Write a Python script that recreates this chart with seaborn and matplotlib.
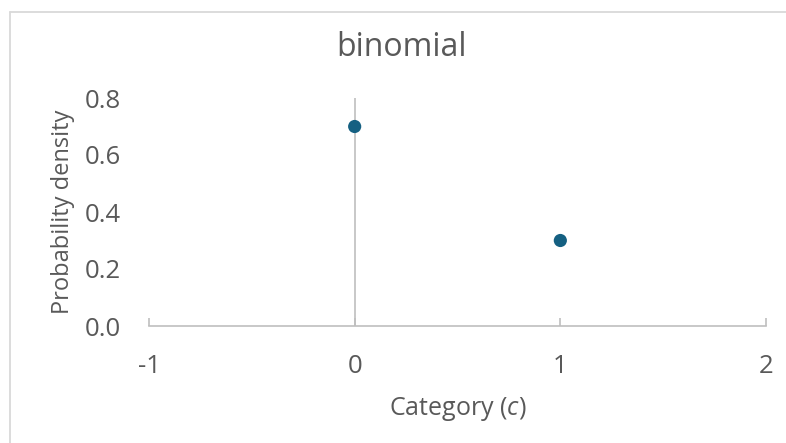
import matplotlib
matplotlib.use("Agg")
import matplotlib.pyplot as plt
import seaborn as sns
import pandas as pd
from matplotlib.lines import Line2D

categories = [0, 1]
probabilities = [0.7, 0.3]
x_ticks = [-1, 0, 1, 2]
y_ticks = [0.0, 0.2, 0.4, 0.6, 0.8]
title = "binomial"
x_label = "Category ($c$)"
y_label = "Probability density"

df = pd.DataFrame({"c": categories, "p": probabilities})

sns.set_theme(style="white")
plt.rcParams["font.family"] = ["Open Sans", "DejaVu Sans"]
plt.rcParams["mathtext.fontset"] = "custom"
plt.rcParams["mathtext.it"] = "Open Sans:italic"
plt.rcParams["mathtext.rm"] = "Open Sans"

txt = "#595959"
axc = "#BFBFBF"

W, H = 786, 443
fig = plt.figure(figsize=(W / 100, H / 100), dpi=100)
ax = fig.add_axes([149 / W, 1 - 326 / H, (766 - 149) / W, (326 - 98) / H])

sns.scatterplot(data=df, x="c", y="p", ax=ax, color="#156082", s=90,
                edgecolor="none", zorder=5, clip_on=False)

ax.set_xlim(-1, 2)
ax.set_ylim(0, 0.8)
ax.set_xticks(x_ticks)
ax.set_xticklabels([str(v) for v in x_ticks])
ax.set_yticks(y_ticks)
ax.set_yticklabels([f"{v:.1f}" for v in y_ticks])

for s in ["top", "right", "left"]:
    ax.spines[s].set_visible(False)
ax.spines["bottom"].set_color(axc)
ax.spines["bottom"].set_linewidth(1.2)
ax.axvline(0, color=axc, lw=1.2, zorder=1)

ax.tick_params(axis="x", direction="in", length=6, width=1.2, color=axc,
               labelsize=18.5, labelcolor=txt, pad=20, bottom=True)
ax.tick_params(axis="y", length=0, labelsize=18.5, labelcolor=txt, pad=20, left=False)

ax.set_xlabel(x_label, fontsize=18, color=txt, labelpad=12)
ax.set_ylabel(y_label, fontsize=17, color=txt, labelpad=7)
fig.text(402 / W, 1 - 48 / H, title, fontsize=23, color=txt, ha="center", va="center")
ax.grid(False)

# chart border
border = "#D9D9D9"
fig.add_artist(Line2D([9.5 / W, 1], [1 - 11.5 / H, 1 - 11.5 / H], color=border, lw=1.3, transform=fig.transFigure))
fig.add_artist(Line2D([9.5 / W, 9.5 / W], [0, 1 - 11.5 / H], color=border, lw=1.3, transform=fig.transFigure))

fig.savefig("out.png", dpi=100)
